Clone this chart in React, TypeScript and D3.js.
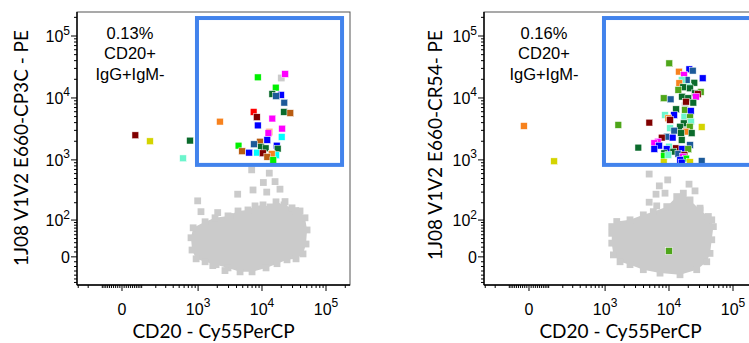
import React, { useEffect, useRef } from 'react';
import * as d3 from 'd3';

// Event colours (FlowJo-like population palette)
const palette: Record<string, string> = {
  blue: '#0000ff',
  steel: '#1c5a99',
  dkgreen: '#0b6b2c',
  green: '#00f000',
  olive: '#4ea61a',
  maroon: '#800000',
  red: '#ff0000',
  magenta: '#ff00ff',
  orange: '#f7821e',
  brown: '#b85c12',
  yellow: '#d4d400',
  cyan: '#00ffff',
  aqua: '#6cf5cc',
};

// Axis ticks
const xTickValues = [0, 1e3, 1e4, 1e5];
const yTickValues = [0, 1e2, 1e3, 1e4, 1e5];

// Gates (CD20+, 1J08 binding); the right one runs past the crop
const gateX = [960, 178000];
const gateXRight = [960, 260000];
const gateY = [830, 195000];

const xTitle = 'CD20 - Cy55PerCP';
const yTitles = ['1J08 V1V2 E660-CP3C - PE', '1J08 V1V2 E660-CR54- PE'];
const gateLabels = [
  ['0.13%', 'CD20+', 'IgG+IgM-'],
  ['0.16%', 'CD20+', 'IgG+IgM-'],
];

// Left panel: bulk (gray) population outline + sparse gray events
const leftBlob: [number, number][] = [
  [836, 71], [1288, 93], [1846, 110], [2945, 119], [4220, 145], [6040, 151],
  [7780, 177], [10370, 184], [13350, 170], [16560, 207], [22090, 184],
  [29450, 164], [39260, 145], [46980, 110], [50570, 64], [48750, 27],
  [43750, 6], [34020, -4], [24610, -6], [17170, -14], [11560, -23],
  [6990, -32], [4540, -32], [2945, -23], [1911, -16], [1288, -10],
  [931, -4], [802, 14], [773, 42],
];
const leftGray: [number, number][] = [
  [20000, 21000], [6900, 690], [13000, 610], [10500, 430], [16000, 445],
  [7240, 325], [4170, 277], [11860, 300], [19100, 335], [985, 215],
  [1110, 141], [2030, 136], [3170, 116], [22900, 209], [33600, 147],
  [1700, -18], [2640, -29],
];
const leftEvents: [number, number, string][] = [
  [8600, 21500, 'green'], [23000, 24400, 'magenta'], [16400, 14700, 'green'],
  [14500, 11600, 'dkgreen'], [19800, 11200, 'blue'], [16600, 10700, 'steel'],
  [22300, 8400, 'steel'], [7400, 5950, 'red'], [8300, 4900, 'maroon'],
  [22100, 5950, 'dkgreen'], [27700, 5700, 'brown'], [14500, 4650, 'magenta'],
  [2200, 4150, 'orange'], [8600, 3600, 'blue'], [20600, 3200, 'magenta'],
  [13000, 2830, 'orange'], [12600, 2700, 'magenta'], [20300, 2350, 'cyan'],
  [12100, 2100, 'blue'], [9300, 1970, 'brown'], [7500, 1790, 'steel'],
  [4300, 1700, 'green'], [9700, 1620, 'dkgreen'], [11400, 1540, 'dkgreen'],
  [17000, 1700, 'blue'], [17600, 1520, 'dkgreen'], [4900, 1380, 'brown'],
  [6300, 1310, 'blue'], [8400, 1310, 'cyan'], [10300, 1280, 'maroon'],
  [16600, 1190, 'cyan'], [14200, 1250, 'orange'], [12100, 1120, 'brown'],
  [15000, 990, 'green'], [65, 2500, 'maroon'], [154, 2000, 'yellow'],
  [745, 2050, 'dkgreen'], [577, 1060, 'aqua'],
];

// Right panel
const rightBlob: [number, number][] = [
  [1273, 75], [1524, 94], [2460, 101], [3971, 124], [5688, 141], [9222, 172],
  [13210, 253], [16740, 288], [21320, 223], [30540, 151], [41200, 116],
  [49310, 75], [46540, 37], [43750, 7], [38870, -10], [27100, -27],
  [14860, -39], [7240, -35], [3971, -27], [2460, -16], [1717, -10],
  [1350, 4], [1273, 29], [1273, 54],
];
const rightGray: [number, number][] = [
  [4900, 590], [9550, 474], [7060, 379], [20550, 404], [6270, 277],
  [8670, 288], [25500, 314], [4900, 204], [6430, 177], [30540, 162],
  [46540, 101], [17800, 7500], [17800, 3600],
];
const rightEvents: [number, number, string][] = [
  [-24, 3530, 'orange'], [134, 950, 'yellow'], [1615, 3670, 'olive'],
  [4930, 4000, 'maroon'], [3320, 1580, 'dkgreen'], [10100, 36200, 'olive'],
  [14300, 26600, 'orange'], [20800, 29000, 'blue'], [23500, 27600, 'steel'],
  [17200, 23500, 'magenta'], [33600, 20800, 'blue'], [18900, 19500, 'steel'],
  [15800, 19500, 'aqua'], [14500, 17300, 'orange'], [24900, 17600, 'dkgreen'],
  [20000, 15200, 'aqua'], [16700, 14900, 'dkgreen'], [21300, 14300, 'dkgreen'],
  [14000, 13500, 'olive'], [31300, 12500, 'olive'], [25500, 11900, 'dkgreen'],
  [28100, 11500, 'maroon'], [26400, 10500, 'magenta'], [16000, 10500, 'dkgreen'],
  [20000, 9900, 'dkgreen'], [8270, 9900, 'olive'], [10600, 9500, 'steel'],
  [18500, 8700, 'maroon'], [24000, 8400, 'dkgreen'], [12900, 6570, 'dkgreen'],
  [17800, 6400, 'olive'], [21900, 6170, 'blue'], [12000, 5300, 'blue'],
  [8670, 5300, 'aqua'], [17400, 5000, 'aqua'], [21300, 4880, 'olive'],
  [9770, 4700, 'orange'], [10400, 4420, 'maroon'], [22100, 4150, 'aqua'],
  [17000, 3900, 'dkgreen'], [21100, 3440, 'olive'], [14900, 3440, 'dkgreen'],
  [32400, 3400, 'yellow'], [10400, 3250, 'aqua'], [12100, 2970, 'steel'],
  [18500, 2860, 'orange'], [15400, 2700, 'dkgreen'], [22600, 2700, 'dkgreen'],
  [9200, 2370, 'steel'], [7700, 2290, 'maroon'], [11400, 2290, 'blue'],
  [15800, 2100, 'dkgreen'], [6670, 1970, 'magenta'], [5900, 1860, 'magenta'],
  [7000, 1700, 'blue'], [21300, 1740, 'steel'], [10000, 1640, 'aqua'],
  [5900, 1500, 'blue'], [12900, 1540, 'maroon'], [16100, 1500, 'blue'],
  [9200, 1490, 'blue'], [20000, 1490, 'olive'], [11700, 1360, 'dkgreen'],
  [8450, 1280, 'dkgreen'], [14000, 1250, 'steel'], [8360, 1160, 'green'],
  [9770, 1200, 'aqua'], [17400, 1200, 'maroon'], [16600, 1130, 'magenta'],
  [18500, 1050, 'green'], [15000, 1000, 'blue'], [8270, 920, 'yellow'],
  [15800, 905, 'blue'], [21300, 920, 'yellow'], [32400, 960, 'steel'],
  [10000, 12, 'olive'],
];

const W = 273;
const H = 273;
const GRAY = '#cbcbcb';
const SQ = 6.8;
const SANS = 'Liberation Sans, Arial, sans-serif';

// biexponential-like display: arcsinh with a per-axis linear width
const asinhT = (c: number) => (v: number) => Math.asinh(v / c) / Math.LN10;
const tx = asinhT(130);
const ty = asinhT(54.5);
const xLin = d3.scaleLinear().domain([tx(-315), tx(237000)]).range([0, W]);
const yLin = d3.scaleLinear().domain([ty(-68), ty(244000)]).range([H, 0]);
const xs = (v: number) => xLin(tx(v));
const ys = (v: number) => yLin(ty(v));

const minorTicks = (lo: number, hi: number, majors: number[]) => {
  const out: number[] = [];
  for (let k = 1; k <= 5; k++) {
    for (let m = 1; m <= 9; m++) {
      const v = m * Math.pow(10, k);
      [v, -v].forEach((t) => {
        if (t > lo && t < hi && !majors.includes(t)) out.push(t);
      });
    }
  }
  return out;
};

const App: React.FC = () => {
  const svgRef = useRef<SVGSVGElement | null>(null);

  useEffect(() => {
    if (!svgRef.current) return;
    const svg = d3.select(svgRef.current);
    svg.selectAll('*').remove();

    const panels = [
      { left: 77, titleX: -49.5, titleY: 148, labelX: 130, gx: gateX, gray: leftGray, blob: leftBlob, events: leftEvents },
      { left: 484, titleX: -42, titleY: 145, labelX: 544, gx: gateXRight, gray: rightGray, blob: rightBlob, events: rightEvents },
    ];

    panels.forEach((p, i) => {
      const g = svg.append('g').attr('transform', `translate(${p.left},12)`);

      // gray bulk population
      const line = d3.line<[number, number]>()
        .x((d) => xs(d[0]))
        .y((d) => ys(d[1]))
        .curve(d3.curveLinearClosed);
      g.append('path').attr('d', line(p.blob) as string).attr('fill', GRAY);
      g.selectAll('rect.edge')
        .data(p.blob.concat(p.gray))
        .join('rect')
        .attr('class', 'edge')
        .attr('x', (d) => xs(d[0]) - SQ / 2)
        .attr('y', (d) => ys(d[1]) - SQ / 2)
        .attr('width', SQ)
        .attr('height', SQ)
        .attr('fill', GRAY);

      // coloured events
      g.selectAll('rect.ev')
        .data(p.events)
        .join('rect')
        .attr('class', 'ev')
        .attr('x', (d) => xs(d[0]) - SQ / 2)
        .attr('y', (d) => ys(d[1]) - SQ / 2)
        .attr('width', SQ)
        .attr('height', SQ)
        .attr('fill', (d) => palette[d[2]])
        .attr('stroke', '#fff')
        .attr('stroke-width', 0.5);

      // gate
      g.append('rect')
        .attr('x', xs(p.gx[0]))
        .attr('y', ys(gateY[1]))
        .attr('width', xs(p.gx[1]) - xs(p.gx[0]))
        .attr('height', ys(gateY[0]) - ys(gateY[1]))
        .attr('fill', 'none')
        .attr('stroke', '#4283ec')
        .attr('stroke-width', 4);

      // frame
      g.append('rect')
        .attr('width', W)
        .attr('height', H)
        .attr('fill', 'none')
        .attr('stroke', '#555')
        .attr('stroke-width', 1);
      g.append('line').attr('x1', 0).attr('x2', W).attr('y1', H).attr('y2', H)
        .attr('stroke', '#000').attr('stroke-width', 1.4);
      g.append('line').attr('x1', 0).attr('x2', 0).attr('y1', 0).attr('y2', H)
        .attr('stroke', '#000').attr('stroke-width', 1.4);

      // ticks
      const xMinor = minorTicks(-315, 237000, xTickValues);
      const yMinor = minorTicks(-68, 244000, yTickValues);
      const tickG = g.append('g').attr('stroke', '#000').attr('stroke-width', 1);
      xMinor.forEach((v) => {
        tickG.append('line').attr('x1', xs(v)).attr('x2', xs(v)).attr('y1', H).attr('y2', H + 3);
      });
      xTickValues.forEach((v) => {
        tickG.append('line').attr('x1', xs(v)).attr('x2', xs(v)).attr('y1', H).attr('y2', H + 6);
      });
      yMinor.forEach((v) => {
        tickG.append('line').attr('y1', ys(v)).attr('y2', ys(v)).attr('x1', 0).attr('x2', -3);
      });
      yTickValues.forEach((v) => {
        tickG.append('line').attr('y1', ys(v)).attr('y2', ys(v)).attr('x1', 0).attr('x2', -6);
      });

      const tickLabel = (t: d3.Selection<SVGTextElement, unknown, null, undefined>, v: number) => {
        if (v === 0) {
          t.append('tspan').text('0');
        } else {
          t.append('tspan').text('10');
          t.append('tspan').attr('dy', -7.5).attr('font-size', 12).text(String(Math.round(Math.log10(v))));
        }
      };
      xTickValues.forEach((v) => {
        const t = g.append('text')
          .attr('x', xs(v))
          .attr('y', H + 29.5)
          .attr('text-anchor', 'middle')
          .attr('font-family', SANS)
          .attr('font-size', 16)
          .attr('fill', '#000');
        tickLabel(t as any, v);
      });
      yTickValues.forEach((v) => {
        const t = g.append('text')
          .attr('x', -7)
          .attr('y', ys(v) + 6)
          .attr('text-anchor', 'end')
          .attr('font-family', SANS)
          .attr('font-size', 16)
          .attr('fill', '#000');
        tickLabel(t as any, v);
      });

      // axis titles
      g.append('text')
        .attr('x', W / 2)
        .attr('y', 326)
        .attr('text-anchor', 'middle')
        .attr('font-family', 'Lato, sans-serif')
        .attr('font-size', 19)
        .attr('fill', '#000')
        .text(xTitle);
      g.append('text')
        .attr('transform', `translate(${p.titleX},${p.titleY - 12}) rotate(-90)`)
        .attr('text-anchor', 'middle')
        .attr('font-family', 'Lato, sans-serif')
        .attr('font-size', 19)
        .attr('fill', '#000')
        .text(yTitles[i]);

      // gate frequency label
      gateLabels[i].forEach((s, j) => {
        g.append('text')
          .attr('x', p.labelX - p.left)
          .attr('y', 26.5 + j * 20.5)
          .attr('text-anchor', 'middle')
          .attr('font-family', SANS)
          .attr('font-size', 16.5)
          .attr('fill', '#000')
          .text(s);
      });
    });

    return () => { svg.selectAll('*').remove(); };
  }, []);

  return (
    <svg
      ref={svgRef}
      width={749}
      height={343}
      style={{ position: 'absolute', left: 0, top: 0, background: '#fff' }}
    />
  );
};

export default App;
